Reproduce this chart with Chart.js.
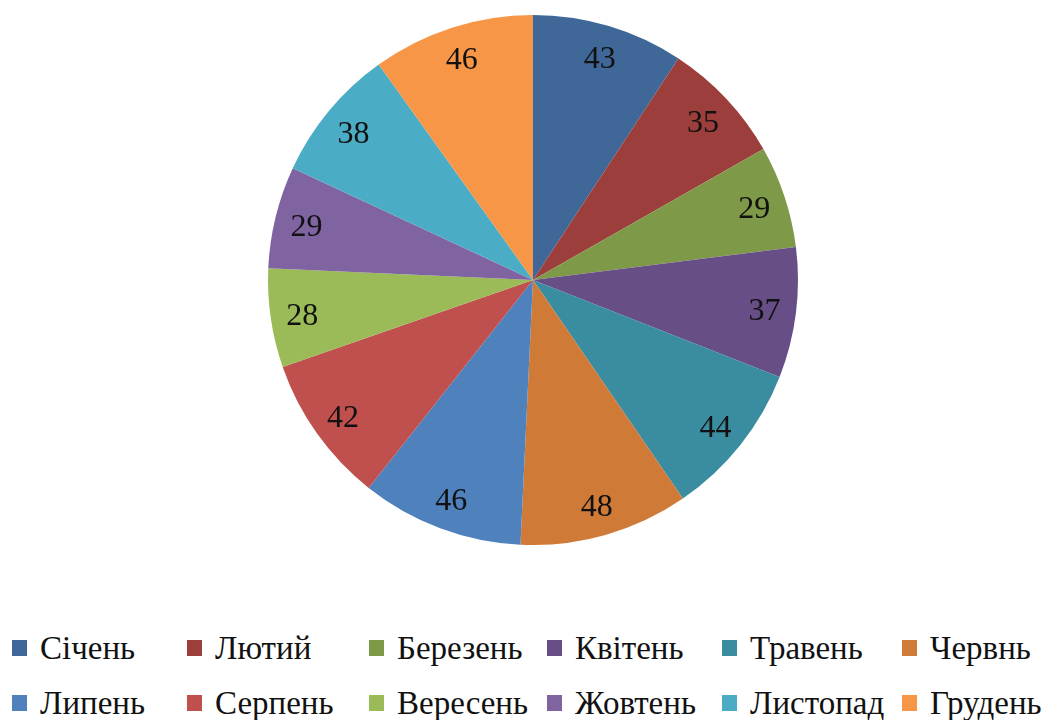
<!DOCTYPE html>
<html>
<head>
<meta charset="utf-8">
<script src="https://cdn.jsdelivr.net/npm/chart.js@4"></script>
<style>
  body { margin: 0; background: #fff; width: 1043px; height: 720px; overflow: hidden; position: relative; }
  #wrap { position: absolute; left: 0; top: 0; width: 1043px; height: 560px; }
  #legenda { position: absolute; left: 0; top: 620px; width: 1043px; font-family: "Liberation Serif", "Times New Roman", serif; font-size: 33px; color: #111; }
  .item { position: absolute; white-space: nowrap; line-height: 34px; }
  .item span.box { display: inline-block; width: 15px; height: 16px; margin-right: 13px; vertical-align: 3px; }
</style>
</head>
<body>
<div id="wrap"><canvas id="grafico" width="1043" height="560"></canvas></div>
<div id="legenda"></div>
<script>
// Місяці та значення
const mesyatsi = ['Січень', 'Лютий', 'Березень', 'Квітень', 'Травень', 'Червнь',
                  'Липень', 'Серпень', 'Вересень', 'Жовтень', 'Листопад', 'Грудень'];
const znachennya = [43, 35, 29, 37, 44, 48, 46, 42, 28, 29, 38, 46];
const kolory = ['#3F6899', '#9C3F3C', '#7E9A48', '#684E87', '#3A8CA1', '#D07A37',
                '#4F81BD', '#C0504D', '#9BBB59', '#8064A2', '#4BACC6', '#F79646'];

// Підписи значень всередині секторів
const pidpysy = {
  id: 'pidpysy',
  afterDatasetsDraw(chart) {
    const ctx = chart.ctx;
    const meta = chart.getDatasetMeta(0);
    ctx.save();
    ctx.font = '32px "Liberation Serif", "Times New Roman", serif';
    ctx.fillStyle = '#111';
    ctx.textAlign = 'center';
    ctx.textBaseline = 'middle';
    meta.data.forEach((arc, i) => {
      const p = arc.getProps(['x', 'y', 'startAngle', 'endAngle', 'outerRadius'], true);
      const kut = (p.startAngle + p.endAngle) / 2;
      const r = p.outerRadius * 0.88;
      ctx.fillText(String(znachennya[i]), p.x + Math.cos(kut) * r, p.y + Math.sin(kut) * r + 3);
    });
    ctx.restore();
  }
};

new Chart(document.getElementById('grafico').getContext('2d'), {
  type: 'pie',
  data: {
    labels: mesyatsi,
    datasets: [{
      data: znachennya,
      backgroundColor: kolory,
      borderWidth: 0
    }]
  },
  options: {
    responsive: false,
    animation: false,
    layout: { padding: { left: 23, right: 0, top: 15, bottom: 15 } },
    plugins: {
      legend: { display: false },
      tooltip: { enabled: false }
    }
  },
  plugins: [pidpysy]
});

// Легенда у два рядки по шість
const kolonky = [12, 187, 369, 547, 722, 902];
const legenda = document.getElementById('legenda');
mesyatsi.forEach((m, i) => {
  const el = document.createElement('div');
  el.className = 'item';
  el.style.left = kolonky[i % 6] + 'px';
  el.style.top = (Math.floor(i / 6) * 55 + 11) + 'px';
  el.innerHTML = '<span class="box" style="background:' + kolory[i] + '"></span>' + m;
  legenda.appendChild(el);
});
</script>
</body>
</html>
